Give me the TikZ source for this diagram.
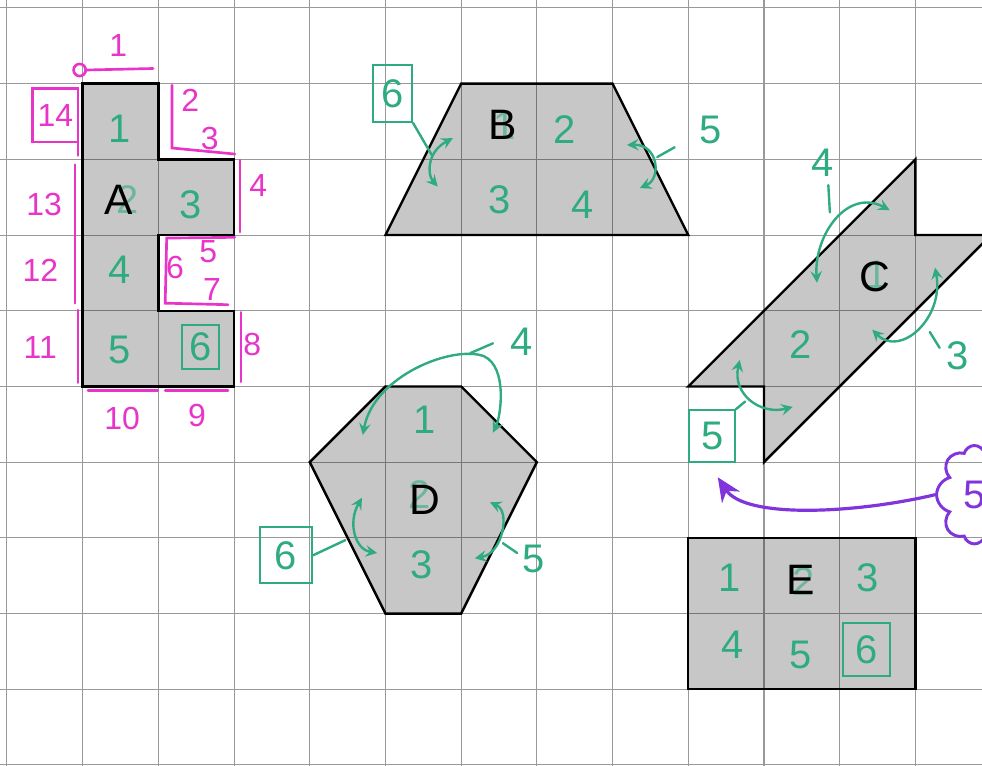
\documentclass[tikz,border=0pt]{standalone}
\usepackage{fontspec}
\setmainfont{Liberation Sans}
\usepackage{tikz}
\usetikzlibrary{arrows.meta, shapes.symbols}
\definecolor{pen}{RGB}{232, 52, 200}
\definecolor{ink}{RGB}{46, 172, 128}
\definecolor{lilac}{RGB}{128, 52, 220}

\begin{document}
\begin{tikzpicture}[
   paper/.style={draw=black!40, line width=0.4},
   tile/.style={draw=black, fill=black, fill opacity=0.22, draw opacity=1,
                line width=0.9, line join=miter},
   letter/.style={font=\fontsize{16}{16}\selectfont, text=black, inner sep=0},
   count/.style={font=\fontsize{15}{15}\selectfont, text=ink, inner sep=0},
   hidden/.style={count, text opacity=0.6},
   boxcount/.style={count, draw=ink, line width=0.8},
   edgenum/.style={font=\fontsize{12}{12}\selectfont, text=pen, inner sep=0},
   penline/.style={draw=pen, line width=1, line cap=round},
   inkline/.style={draw=ink, line width=0.9, line cap=round},
   inkarrow/.style={<->, >=stealth, draw=ink, line width=0.9},
   lilacarrow/.style={-{Stealth[length=9pt, width=8pt]}, draw=lilac, line width=1.2}
  ]

  \useasboundingbox (-0.092, -0.013) rectangle (12.88, 10.105);
  \fill[white] (-0.092, -0.013) rectangle (12.88, 10.105);
  \draw[paper] (-0.092, -0.013) grid (12.88, 10.105);

  % the five shapes
  \draw[tile] (1, 9) -- (2, 9) -- (2, 8) -- (3, 8) -- (3, 7) -- (2, 7) -- (2, 6)
              -- (3, 6) -- (3, 5) -- (1, 5) -- cycle;
  \draw[tile] (6, 9) -- (8, 9) -- (9, 7) -- (5, 7) -- cycle;
  \draw[tile] (9, 5) -- (12, 8) -- (12, 7) -- (13, 7) -- (10, 4) -- (10, 5) -- cycle;
  \draw[tile] (5, 5) -- (6, 5) -- (7, 4) -- (6, 2) -- (5, 2) -- (4, 4) -- cycle;
  \draw[tile] (9, 1) rectangle (12, 3);

  % A, with its edges counted
  \node (A1) at (1.49, 8.41) [count] {1};
  \node (A2) at (1.60, 7.47) [hidden] {2};
  \node (LA) at (1.47, 7.46) [letter] {A};
  \node (A3) at (2.42, 7.40) [count] {3};
  \node (A4) at (1.49, 6.54) [count] {4};
  \node (A5) at (1.49, 5.48) [count] {5};
  \node (A6) at (2.56, 5.52) [boxcount, minimum width=0.49cm, minimum height=0.58cm] {6};

  \node (e1) at (1.47, 9.51) [edgenum] {1};
  \node (e2) at (2.42, 8.78) [edgenum] {2};
  \node (e3) at (2.68, 8.28) [edgenum] {3};
  \node (e4) at (3.32, 7.66) [edgenum] {4};
  \node (e5) at (2.66, 6.78) [edgenum] {5};
  \node (e6) at (2.22, 6.57) [edgenum] {6};
  \node (e7) at (2.71, 6.28) [edgenum] {7};
  \node (e8) at (3.24, 5.55) [edgenum] {8};
  \node (e9) at (2.51, 4.62) [edgenum] {9};
  \node (e10) at (1.52, 4.58) [edgenum] {10};
  \node (e11) at (0.44, 5.51) [edgenum] {11};
  \node (e12) at (0.44, 6.54) [edgenum] {12};
  \node (e13) at (0.49, 7.40) [edgenum] {13};
  \node (e14) at (0.64, 8.585) [edgenum, draw=pen, line width=1,
                                minimum width=0.6cm, minimum height=0.71cm] {14};

  \draw[penline] (0.96, 9.18) circle (0.08);
  \draw[penline] (1.04, 9.18) -- (1.93, 9.2);
  \draw[penline] (2.18, 8.98) -- (2.18, 8.15) -- (3.01, 8.07);
  \draw[penline] (3.08, 7.99) -- (3.08, 7.04);
  \draw[penline] (3.01, 6.97) -- (2.11, 6.96) -- (2.09, 6.10) -- (2.92, 6.08);
  \draw[penline] (3.09, 5.98) -- (3.09, 5.06);
  \draw[penline] (2.09, 4.95) -- (2.92, 4.95);
  \draw[penline] (1.07, 4.95) -- (1.99, 4.95);
  \draw[penline] (0.94, 6.01) -- (0.94, 5.05);
  \draw[penline] (0.90, 7.93) -- (0.90, 6.10);
  \draw[penline] (0.94, 8.94) -- (0.94, 8.05);

  % B
  \node (B1) at (6.57, 8.45) [hidden] {1};
  \node (LB) at (6.55, 8.45) [letter] {B};
  \node (B2) at (7.37, 8.39) [count] {2};
  \node (B3) at (6.51, 7.46) [count] {3};
  \node (B4) at (7.60, 7.40) [count] {4};
  \node (B6) at (5.09, 8.87) [boxcount, minimum width=0.52cm, minimum height=0.75cm] {6};
  \node (B5) at (9.29, 8.39) [count] {5};
  \coordinate (b6) at (5.61, 8.06);
  \coordinate (b5a) at (8.82, 8.16);
  \coordinate (b5b) at (8.59, 8.03);
  \draw[inkarrow] (5.89, 8.28) .. controls (5.55, 8.1) and (5.55, 7.8) .. (5.69, 7.64);
  \draw[inkarrow] (8.19, 8.19) .. controls (8.6, 8.2) and (8.65, 7.75) .. (8.36, 7.62);

  % C
  \node (C1) at (11.49, 6.47) [hidden] {1};
  \node (LC) at (11.47, 6.45) [letter] {C};
  \node (C2) at (10.48, 5.55) [count] {2};
  \node (C4) at (10.77, 7.95) [count] {4};
  \node (C3) at (12.56, 5.40) [count] {3};
  \node (C5) at (9.315, 4.345) [boxcount, minimum width=0.6cm, minimum height=0.68cm] {5};
  \coordinate (c4a) at (10.85, 7.66);
  \coordinate (c4b) at (10.87, 7.30);
  \coordinate (c3a) at (12.32, 5.51);
  \coordinate (c3b) at (12.19, 5.72);
  \coordinate (c5) at (9.75, 4.80);
  \draw[inkarrow] (10.70, 6.37) .. controls (10.66, 7.0) and (11.1, 7.62) .. (11.66, 7.33);
  \draw[inkarrow] (12.26, 6.57) .. controls (12.38, 5.9) and (11.8, 5.38) .. (11.43, 5.75);
  \draw[inkarrow] (9.68, 5.35) .. controls (9.58, 4.9) and (9.95, 4.62) .. (10.38, 4.73);

  % D
  \node (D1) at (5.52, 4.56) [count] {1};
  \node (D2) at (5.45, 3.57) [hidden] {2};
  \node (LD) at (5.52, 3.50) [letter] {D};
  \node (D3) at (5.48, 2.64) [count] {3};
  \node (D4) at (6.80, 5.59) [count] {4};
  \node (D5) at (6.95, 2.72) [count] {5};
  \node (D6) at (3.685, 2.77) [boxcount, minimum width=0.69cm, minimum height=0.74cm] {6};
  \coordinate (d4a) at (6.42, 5.57);
  \coordinate (d4b) at (6.12, 5.44);
  \coordinate (d5a) at (6.74, 2.80);
  \coordinate (d5b) at (6.55, 2.93);
  \coordinate (d6) at (4.47, 2.97);
  \draw[inkarrow] (4.70, 4.36) .. controls (4.85, 5.15) and (5.9, 5.55) .. (6.3, 5.4)
                  .. controls (6.62, 5.25) and (6.52, 4.6) .. (6.42, 4.39);
  \draw[inkarrow] (4.69, 3.53) .. controls (4.5, 3.2) and (4.6, 2.85) .. (4.89, 2.80);
  \draw[inkarrow] (6.38, 3.47) .. controls (6.65, 3.35) and (6.55, 2.8) .. (6.18, 2.73);

  % E
  \node (E1) at (9.55, 2.47) [count] {1};
  \node (E2) at (10.52, 2.42) [hidden] {2};
  \node (LE) at (10.48, 2.44) [letter] {E};
  \node (E3) at (11.37, 2.47) [count] {3};
  \node (E4) at (9.58, 1.59) [count] {4};
  \node (E5) at (10.48, 1.45) [count] {5};
  \node (E6) at (11.35, 1.52) [boxcount, minimum width=0.62cm, minimum height=0.7cm] {6};

  % the ticks from the counts to the arrows
  \foreach \B/\E in {B6.south east/b6, b5a/b5b, c4a/c4b, c3a/c3b, C5.north east/c5,
                     d4a/d4b, d5a/d5b, D6.east/d6} {
    \draw[inkline] (\B) -- (\E);
  }

  % the cloud
  \node (S) at (12.78, 3.57) [cloud, cloud puffs=8, aspect=0.8, draw=lilac, line width=1.1,
                               minimum width=1.0cm, minimum height=1.3cm,
                               font=\fontsize{15}{15}\selectfont, text=lilac] {5};
  \coordinate (s) at (9.39, 3.80);
  \draw[lilacarrow] (S.west) .. controls (11.2, 3.32) and (9.75, 3.25) .. (s);

\end{tikzpicture}
\end{document}
